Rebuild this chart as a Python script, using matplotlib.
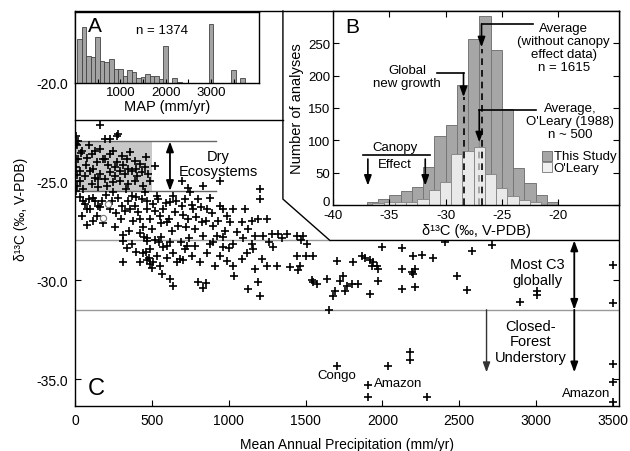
import matplotlib

matplotlib.use("Agg")

import matplotlib.pyplot as plt
import matplotlib.transforms as mtransforms
from matplotlib.patches import Polygon, Rectangle

plt.rcParams["font.family"] = ["Liberation Sans", "DejaVu Sans"]
plt.rcParams["axes.unicode_minus"] = False

# ---- panel C: leaf d13C vs mean annual precipitation ----
map_mm = [
    163, 5, 5, 5, 195, 228, 271, 282,
    22, 43, 76, 108, 141, 163, 195, 228, 250, 271, 304, 336, 358, 390, 423, 455,
    477, 434, 401, 369, 325, 293, 260, 228, 195, 163, 130, 98, 65, 33, 11, 5,
    54, 108, 152, 206, 250, 293, 347, 390, 445, 488, 521, 10, 5, 10, 5, 20,
    65, 76, 43, 119, 152, 174, 228, 141, 250, 282, 304, 325, 347, 369, 390, 412,
    434, 455, 466, 488, 510, 531, 553, 575, 597, 618, 640, 651, 672, 694, 716,
    738, 748, 770, 781, 803, 824, 835, 857, 879, 900, 922, 944, 965, 987, 1009,
    1030, 1052, 1085, 1106, 1128, 1150, 1171, 1193, 1204, 1204, 1225, 1247,
    1280, 1323, 1377, 1442, 1486, 694, 738, 835, 944,
    315, 369, 466, 488, 531, 553, 510, 445, 575, 618, 640, 662, 618, 640, 683,
    716, 759, 781, 813, 857, 900, 911, 944, 965, 987, 1030, 1030, 1085, 1117,
    1128, 1160, 1171, 1193, 1204, 1215, 1247, 1291, 1312, 1399, 1442, 1464,
    1508, 1551, 1551, 1573, 1638, 1681, 1692, 1703, 1746, 1768, 1800, 1811,
    1865, 1887, 1920, 1941, 1963, 315,
    460, 480, 490, 500, 470, 563, 800, 830, 850, 1034, 1453, 1505, 1545, 1650,
    310, 420, 470, 520, 560, 600, 690, 740, 880, 960, 1000, 1090, 1150, 1260,
    1350, 1470,
    1919, 1930, 1974, 1974, 1757, 1843, 1724,
    2126, 2126, 2212, 2201, 2190, 2212, 2483, 2553, 2895, 3004, 3004,
    3498, 3498, 3498, 3498, 3498, 2180, 2180, 2039, 1908, 1908, 2288, 1702,
    1995, 2126, 2201, 2256, 2331, 2407, 2581, 2715,
    30, 90, 130, 165, 200, 240, 270, 100, 120, 180, 260, 300, 80, 55,
    330, 360, 380, 400, 420, 440, 470, 500, 520, 540, 560, 590, 610, 450, 350,
    630, 660, 700, 720, 760, 790, 820, 850, 890, 930, 975,
    40, 90, 130, 180, 215, 260, 310, 345, 400, 460, 35, 70, 115, 150,
    340, 395, 420, 545, 600, 700, 730,
]
d13c = [
    -22.17, -22.71, -22.96, -23.13, -22.88, -22.85, -22.71, -22.63,
    -23.89, -23.47, -23.81, -23.64, -24.06, -23.39, -23.89, -23.64, -23.47,
    -24.06, -23.72, -23.89, -23.55, -23.97, -24.14, -24.31,
    -24.65, -24.56, -24.73, -24.48, -24.65, -24.48, -24.73, -24.56, -24.90,
    -24.65, -24.82, -24.48, -24.73, -24.99, -25.24, -24.31,
    -25.41, -25.15, -25.32, -25.24, -25.07, -24.99, -25.15, -24.99, -25.24,
    -24.99, -24.23, -23.2, -23.9, -24.7, -25.5, -23.0,
    -26.16, -26.42, -26.75, -25.83, -26.25, -25.99, -26.42, -26.75, -25.57,
    -25.83, -26.25, -26.50, -25.99, -25.74, -26.25, -26.58,
    -25.91, -25.57, -26.42, -26.92, -26.16, -25.74, -26.75, -26.42, -27.09,
    -26.08, -25.74, -26.58, -27.26, -26.25, -25.91,
    -26.92, -25.57, -26.42, -27.43, -25.91, -27.09, -27.76, -26.42, -25.83,
    -27.26, -27.76, -26.25, -26.42, -26.75, -27.09,
    -26.42, -27.59, -27.09, -26.42, -27.43, -27.01, -27.76, -26.92, -25.41,
    -25.91, -27.76, -26.92,
    -27.68, -27.68, -27.68, -27.76, -27.76, -24.99, -25.35, -25.27, -24.99,
    -28.02, -28.18, -28.02, -28.44, -28.77, -29.28, -29.11, -28.61, -28.35,
    -28.10, -28.61, -29.11, -29.95, -30.29, -28.94,
    -28.44, -28.77, -28.27, -29.11, -28.61, -28.10, -29.28, -28.77, -28.35,
    -29.03, -28.18, -29.28, -28.94, -28.61,
    -30.46, -28.44, -29.45, -30.12, -30.79, -28.94, -29.28, -28.35, -29.28,
    -29.36, -28.77, -29.28,
    -28.18, -28.77, -30.12, -30.20, -29.95, -30.79, -30.54, -29.03, -29.78,
    -30.29, -30.20, -29.11,
    -28.77, -28.86, -30.71, -29.11, -29.28, -29.11,
    -28.6, -28.9, -29.2, -29.4, -29.0, -29.7, -30.1, -30.4, -30.15, -29.8,
    -29.5, -28.8, -30.0, -31.5,
    -27.7, -27.6, -27.9, -28.0, -27.8, -28.3, -28.1, -27.9, -28.2, -27.8,
    -28.4, -27.9, -28.2, -28.1, -27.9, -28.0,
    -29.0, -29.28, -29.44, -30.03, -30.54, -30.2, -30.03,
    -29.44, -30.45, -29.44, -29.7, -29.6, -30.37, -29.81, -30.5, -31.1,
    -30.54, -30.76,
    -29.24, -31.16, -34.24, -35.17, -36.15, -33.62, -34.04, -34.33, -35.3,
    -35.92, -35.92, -34.33,
    -28.35, -28.4, -28.77, -28.74, -28.9, -28.1, -28.52, -28.23,
    -25.8, -25.9, -26.0, -26.3, -25.7, -26.0, -26.6, -26.4, -27.0, -27.1,
    -27.3, -26.9, -27.2, -26.0,
    -25.4, -26.4, -27.0, -25.8, -26.9, -27.3, -26.0, -27.4, -26.5, -25.9,
    -27.1, -26.1, -26.9, -27.8, -27.5,
    -27.5, -26.0, -26.7, -27.3, -26.2, -26.8, -26.3, -27.0, -26.6, -27.0, -27.5,
    -23.6, -23.2, -23.5, -23.9, -24.2, -24.3, -24.2, -24.4, -24.4, -23.8,
    -24.5, -24.2, -24.4, -24.9,
    -28.4, -28.6, -29.1, -28.1, -28.9, -29.0, -28.3,
]
open_map = [217, 184]
open_d13c = [-26.16, -26.84]

# ---- panel A: histogram of MAP ----
a_bins = [100, 200, 300, 400, 500, 600, 700, 800, 900, 1000, 1100, 1200,
          1300, 1400, 1500, 1600, 1700, 1800, 1900, 2000, 2200, 2300,
          3000, 3500, 3700]
a_counts = [126, 159, 78, 73, 131, 64, 59, 67, 40, 40, 21, 37,
            30, 13, 16, 26, 21, 19, 11, 105, 14, 4,
            169, 37, 13]

# ---- panel B: histograms of d13C ----
b_centers = [-36.5, -35.5, -34.5, -33.5, -32.5, -31.5, -30.5, -29.5, -28.5,
             -27.5, -26.5, -25.5, -24.5, -23.5, -22.5, -21.5, -20.5]
b_this_study = [5, 10, 16, 21, 28, 58, 107, 124, 186, 257, 293, 240, 148,
                57, 34, 15, 5]
oleary_centers = [-36, -35, -34, -33, -32, -31, -30, -29, -28, -27, -26,
                  -25, -24, -23, -22]
oleary_counts = [3, 4, 4, 4, 9, 23, 36, 79, 83, 90, 48, 26, 14, 8, 5]

new_growth = -28.4
avg_this_study = -26.8
avg_oleary = -27.0

fig = plt.figure(figsize=(6.3, 4.52), dpi=100)
W, H = 630.0, 452.0

ax = fig.add_axes([75 / W, 1 - 407 / H, 544 / W, 395 / H])
ax.set_xlim(0, 3540)
ax.set_ylim(-36.36, -16.41)
ax.plot(map_mm, d13c, "+", color="black", ms=6, mew=1.2, zorder=2)
ax.plot(open_map, open_d13c, "o", mfc="white", mec="#777777", ms=4.5, mew=0.8, zorder=2)

ax.set_xticks(range(0, 3501, 500))
ax.set_yticks([-35, -30, -25, -20])
ax.set_yticklabels([f"{v:.1f}" for v in [-35, -30, -25, -20]])
ax.tick_params(direction="in", length=4, width=0.8, labelsize=10, right=True, pad=5)
ax.set_xlabel("Mean Annual Precipitation (mm/yr)", fontsize=10, labelpad=7)
ax.set_ylabel("δ¹³C (‰, V-PDB)", fontsize=10, labelpad=6)
for sp in ax.spines.values():
    sp.set_linewidth(1.0)

# reference bands
ax.fill_between([0, 500], -25.5, -23.0, color="#c8c8c8", lw=0, zorder=1)
ax.plot([0, 917], [-23.0, -23.0], color="#666666", lw=1, zorder=1.5)
ax.plot([0, 917], [-25.5, -25.5], color="#666666", lw=1, zorder=1.5)
ax.plot([0, 1659], [-28.0, -28.0], color="#999999", lw=1, zorder=1.5)
ax.plot([0, 3540], [-31.5, -31.5], color="#999999", lw=1, zorder=1.5)

# white region under the insets
cover = Polygon([(0, -16.41), (3540, -16.41), (3540, -28.0), (1659, -28.0),
                 (1353, -25.91), (1353, -21.92), (0, -21.92)],
                closed=True, facecolor="white", edgecolor="none", zorder=2.2)
ax.add_patch(cover)
ax.plot([0, 1353], [-21.92, -21.92], color="black", lw=1, zorder=2.6, clip_on=False)
ax.plot([1353, 1353, 1659, 3540], [-16.41, -25.91, -28.0, -28.0],
        color="black", lw=1, zorder=2.6, clip_on=False)

head = "head_length=0.6,head_width=0.22"
ax.annotate("", xy=(618, -23.0), xytext=(618, -25.5),
            arrowprops=dict(arrowstyle="<|-|>," + head, color="black", lw=1.3,
                            shrinkA=0, shrinkB=0, mutation_scale=10), zorder=3)
ax.text(935, -24.1, "Dry\nEcosystems", ha="center", va="center", fontsize=10.5,
        linespacing=1.1, zorder=3)
ax.annotate("", xy=(3249, -28.0), xytext=(3249, -31.5),
            arrowprops=dict(arrowstyle="<|-|>," + head, color="black", lw=1.3,
                            shrinkA=0, shrinkB=0, mutation_scale=10), zorder=3)
ax.annotate("", xy=(3249, -34.66), xytext=(3249, -31.5),
            arrowprops=dict(arrowstyle="-|>," + head, color="black", lw=1.3,
                            shrinkA=0, shrinkB=0, mutation_scale=10), zorder=3)
ax.annotate("", xy=(2678, -34.66), xytext=(2678, -31.5),
            arrowprops=dict(arrowstyle="-|>," + head, color="#333333", lw=1.0,
                            shrinkA=0, shrinkB=0, mutation_scale=10), zorder=3)
ax.text(3010, -29.6, "Most C3\nglobally", ha="center", va="center", fontsize=10.5,
        linespacing=1.2, zorder=3)
ax.text(2965, -33.1, "Closed-\nForest\nUnderstory", ha="center", va="center",
        fontsize=10.5, linespacing=1.1, zorder=3)
ax.text(1702, -34.78, "Congo", ha="center", va="center", fontsize=9.5, zorder=3)
ax.text(1945, -35.2, "Amazon", ha="left", va="center", fontsize=9.5, zorder=3)
ax.text(3485, -35.72, "Amazon", ha="right", va="center", fontsize=9.5, zorder=3)
ax.text(85, -35.45, "C", ha="left", va="center", fontsize=17, zorder=3)

# ---- inset A ----
ax_a = fig.add_axes([75 / W, 1 - 84 / H, 184 / W, 71 / H])
ax_a.bar(a_bins, a_counts, width=100, color="#a3a3a3", edgecolor="#444444", lw=0.6)
ax_a.set_xlim(0, 4060)
ax_a.set_ylim(0, 202)
ax_a.set_yticks([])
ax_a.set_xticks([1000, 2000, 3000])
ax_a.set_xticks(range(500, 4000, 500), minor=True)
ax_a.tick_params(axis="x", which="both", direction="in", length=3, width=0.8,
                 labelsize=9.5, pad=2)
ax_a.set_xlabel("MAP (mm/yr)", fontsize=10.5, labelpad=1)
ax_a.text(0.07, 0.95, "A", transform=ax_a.transAxes, ha="left", va="top", fontsize=15)
ax_a.text(0.473, 0.746, "n = 1374", transform=ax_a.transAxes, ha="center",
          va="center", fontsize=9.5)
for sp in ax_a.spines.values():
    sp.set_linewidth(1.0)

# ---- inset B ----
ax_b = fig.add_axes([333 / W, 1 - 206 / H, 286 / W, 194 / H])
ax_b.bar(b_centers, b_this_study, width=1, color="#a6a6a6", edgecolor="#777777", lw=0.7)
ax_b.bar(oleary_centers, oleary_counts, width=1, color="#e9e9e9", edgecolor="#8a8a8a", lw=0.7)
ax_b.set_xlim(-40, -14.58)
ax_b.set_ylim(0, 300)
ax_b.set_xticks(range(-40, -19, 5))
ax_b.set_yticks(range(0, 251, 50))
ax_b.tick_params(direction="in", length=4, width=0.8, labelsize=9.5, pad=2,
                 top=True, right=True)
ax_b.tick_params(axis="x", pad=3)
ax_b.set_xlabel("δ¹³C (‰, V-PDB)", fontsize=10.5, labelpad=1)
ax_b.set_ylabel("Number of analyses", fontsize=10.5, labelpad=3)
for sp in ax_b.spines.values():
    sp.set_linewidth(1.0)

# lift the "0" count label a little so it clears the "-40" label below it
zero_label = ax_b.get_yticklabels()[0]
zero_label.set_transform(zero_label.get_transform()
                         + mtransforms.ScaledTranslation(0, 3 / 72, fig.dpi_scale_trans))

ax_b.plot([new_growth, new_growth], [0, 167], color="black", lw=1.2, dashes=(4, 3))
ax_b.plot([avg_this_study, avg_this_study], [0, 241], color="black", lw=1.2, dashes=(4, 3))
ax_b.plot([avg_oleary, avg_oleary], [0, 97], color="#999999", lw=1.2, dashes=(4, 3))

bhead = "head_length=0.6,head_width=0.22"
def b_arrow(x, y0, y1):
    ax_b.annotate("", xy=(x, y1), xytext=(x, y0),
                  arrowprops=dict(arrowstyle="-|>," + bhead, color="black", lw=1.2,
                                  shrinkA=0, shrinkB=0, mutation_scale=10))

ax_b.plot([-30.8, new_growth], [204, 204], color="black", lw=1.2)
b_arrow(new_growth, 204, 167)
ax_b.plot([-22.2, avg_this_study], [280, 280], color="black", lw=1.2)
b_arrow(avg_this_study, 280, 244)
ax_b.plot([-22.0, avg_oleary], [147, 147], color="black", lw=1.2)
b_arrow(avg_oleary, 147, 97)
ax_b.plot([-37.3, -31.4], [78, 78], color="black", lw=1.2)
b_arrow(-36.9, 71, 30)
b_arrow(-31.8, 71, 30)

ax_b.text(-33.4, 199, "Global\nnew growth", ha="center", va="center", fontsize=9.5,
          linespacing=1.1)
ax_b.text(-19.5, 244, "Average\n(without canopy\neffect data)\nn = 1615", ha="center",
          va="center", fontsize=9.5, linespacing=1.1)
ax_b.text(-18.9, 130, "Average,\nO'Leary (1988)\nn ~ 500", ha="center", va="center",
          fontsize=9.5, linespacing=1.1)
ax_b.text(-34.5, 90, "Canopy", ha="center", va="center", fontsize=9.5)
ax_b.text(-34.5, 64, "Effect", ha="center", va="center", fontsize=9.5)
ax_b.text(0.042, 0.97, "B", transform=ax_b.transAxes, ha="left", va="top", fontsize=15)

ax_b.add_patch(Rectangle((-21.42, 68), 0.9, 15.5, facecolor="#a6a6a6", edgecolor="#777777", lw=0.7))
ax_b.add_patch(Rectangle((-21.42, 51), 0.9, 15.5, facecolor="#f0f0f0", edgecolor="#888888", lw=0.7))
ax_b.text(-20.4, 76, "This Study", ha="left", va="center", fontsize=9.5)
ax_b.text(-20.4, 57, "O'Leary", ha="left", va="center", fontsize=9.5)

fig.savefig("out.png", dpi=100)
